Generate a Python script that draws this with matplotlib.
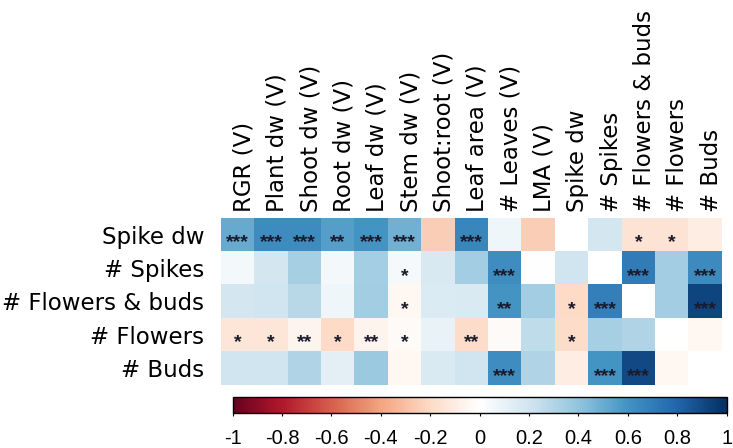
import numpy as np
import matplotlib
matplotlib.use("Agg")
import matplotlib.pyplot as plt
from matplotlib.colors import LinearSegmentedColormap
from matplotlib.transforms import offset_copy

plt.rcParams["axes.unicode_minus"] = False
plt.rcParams["font.family"] = ["DejaVu Sans"]

# ---------------- data ----------------
row_labels = ["Spike dw", "# Spikes", "# Flowers & buds", "# Flowers", "# Buds"]
col_labels = ["RGR (V)", "Plant dw (V)", "Shoot dw (V)", "Root dw (V)", "Leaf dw (V)",
              "Stem dw (V)", "Shoot:root (V)", "Leaf area (V)", "# Leaves (V)", "LMA (V)",
              "Spike dw", "# Spikes", "# Flowers & buds", "# Flowers", "# Buds"]

nan = np.nan
r_spike_dw = [0.50, 0.63, 0.63, 0.55, 0.60, 0.48, -0.25, 0.65, 0.07, -0.25, nan, 0.18, -0.15, -0.15, -0.10]
r_spikes = [0.05, 0.18, 0.33, 0.05, 0.34, 0.04, 0.17, 0.35, 0.62, 0.00, 0.20, nan, 0.70, 0.35, 0.64]
r_flowers_buds = [0.18, 0.20, 0.28, 0.07, 0.35, -0.04, 0.15, 0.16, 0.60, 0.35, -0.20, 0.68, nan, 0.35, 0.92]
r_flowers = [-0.14, -0.14, -0.06, -0.20, -0.06, -0.03, 0.10, -0.19, -0.03, 0.25, -0.19, 0.33, 0.30, nan, -0.04]
r_buds = [0.20, 0.20, 0.30, 0.12, 0.37, -0.04, 0.16, 0.20, 0.62, 0.30, -0.10, 0.60, 0.90, -0.04, nan]

s_spike_dw = ["***", "***", "***", "**", "***", "***", "", "***", "", "", "", "", "*", "*", ""]
s_spikes = ["", "", "", "", "", "*", "", "", "***", "", "", "", "***", "", "***"]
s_flowers_buds = ["", "", "", "", "", "*", "", "", "**", "", "*", "***", "", "", "***"]
s_flowers = ["*", "*", "**", "*", "**", "*", "", "**", "", "", "*", "", "", "", ""]
s_buds = ["", "", "", "", "", "", "", "", "***", "", "", "***", "***", "", ""]

cbar_ticks = [-1, -0.8, -0.6, -0.4, -0.2, 0, 0.2, 0.4, 0.6, 0.8, 1]
cbar_ticklabels = ["-1", "-0.8", "-0.6", "-0.4", "-0.2", "0", "0.2", "0.4", "0.6", "0.8", "1"]

values = np.array([r_spike_dw, r_spikes, r_flowers_buds, r_flowers, r_buds], dtype=float)
stars = [s_spike_dw, s_spikes, s_flowers_buds, s_flowers, s_buds]

# ---------------- plot ----------------
cmap = LinearSegmentedColormap.from_list(
    "rdbu2", ["#67001F", "#B2182B", "#D6604D", "#F4A582", "#FDDBC7", "#FFFFFF",
              "#D1E5F0", "#92C5DE", "#4393C3", "#2166AC", "#053061"], N=256)

fig = plt.figure(figsize=(7.33, 4.48), dpi=100)
ax = fig.add_axes([221 / 733, 1 - 385 / 448, 501 / 733, 167 / 448])
im = ax.imshow(values, cmap=cmap, vmin=-1, vmax=1, aspect="auto", interpolation="nearest")

ax.set_xlim(-0.5, len(col_labels) - 0.5)
ax.set_ylim(len(row_labels) - 0.5, -0.5)
for sp in ax.spines.values():
    sp.set_visible(False)
ax.set_xticks([])
ax.set_yticks(range(len(row_labels)))
ax.set_yticklabels(row_labels, fontsize=16.5)
ax.tick_params(axis="y", length=0, pad=12)

lab_tr = offset_copy(ax.transData, fig=fig, x=6, y=6, units="dots")
for j, lab in enumerate(col_labels):
    ax.text(j, -0.5, lab, rotation=90, ha="center", va="bottom", fontsize=16.5,
            transform=lab_tr)

star_tr = offset_copy(ax.transData, fig=fig, x=0, y=-8, units="dots")
for i in range(len(row_labels)):
    for j in range(len(col_labels)):
        if stars[i][j]:
            ax.text(j, i, stars[i][j], ha="center", va="center", fontsize=14,
                    fontweight="bold", family="Liberation Sans", color="#1a1a2a",
                    transform=star_tr)

cax = fig.add_axes([232.7 / 733, 1 - 413 / 448, 494 / 733, 16.3 / 448])
cb = fig.colorbar(im, cax=cax, orientation="horizontal", ticks=cbar_ticks)
cb.ax.set_xticklabels(cbar_ticklabels, family="Liberation Sans", fontsize=14.5)
cb.outline.set_linewidth(1.0)
cb.outline.set_edgecolor("black")
cax.tick_params(axis="x", length=2.4, width=0.8, pad=9)

fig.savefig("out.png", dpi=100)
